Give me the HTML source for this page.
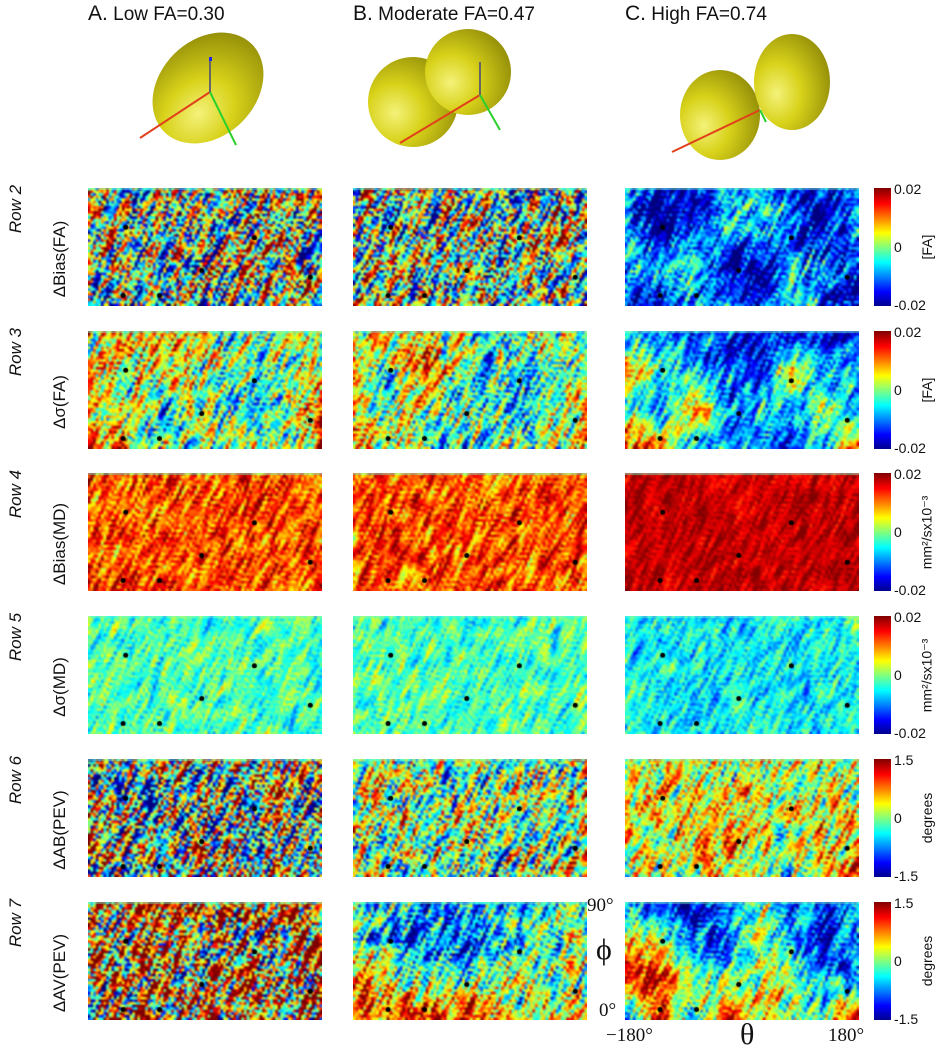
<!DOCTYPE html>
<html><head><meta charset="utf-8"><style>
body{margin:0;background:#fff;width:937px;height:1050px;overflow:hidden;position:relative;font-family:"Liberation Sans",sans-serif}
.t{position:absolute;white-space:nowrap;color:#111}
.rot{transform:rotate(-90deg);transform-origin:center center}
canvas{position:absolute}
</style></head><body>
<div class="t" style="left:88px;top:2px;font-size:19px"><span style="font-size:21px">A.</span> Low FA=0.30</div>
<div class="t" style="left:353px;top:2px;font-size:19px"><span style="font-size:21px">B.</span> Moderate FA=0.47</div>
<div class="t" style="left:625px;top:2px;font-size:19px"><span style="font-size:21px">C.</span> High FA=0.74</div>

<svg width="937" height="180" style="position:absolute;left:0;top:0">
<defs>
<radialGradient id="yg" cx="0.3" cy="0.62" r="0.8"><stop offset="0" stop-color="#f4f27a"/><stop offset="0.4" stop-color="#d8d21a"/><stop offset="1" stop-color="#8a8506"/></radialGradient>
</defs>
<g>
<ellipse cx="208" cy="88" rx="62" ry="48" transform="rotate(-45 208 88)" fill="url(#yg)"/>
<line x1="210" y1="92" x2="140" y2="138" stroke="#e0401a" stroke-width="2"/>
<line x1="210" y1="92" x2="236" y2="145" stroke="#2ad02a" stroke-width="2"/>
<line x1="210" y1="92" x2="210" y2="60" stroke="#666" stroke-width="2"/>
<rect x="209" y="57" width="3" height="4" fill="#22f"/>
</g>
<g>
<circle cx="413" cy="102" r="45" fill="url(#yg)"/>
<circle cx="468" cy="72" r="43" fill="url(#yg)"/>
<line x1="480" y1="95" x2="400" y2="143" stroke="#e0401a" stroke-width="2"/>
<line x1="480" y1="95" x2="500" y2="130" stroke="#2ad02a" stroke-width="2"/>
<line x1="480" y1="95" x2="480" y2="62" stroke="#666" stroke-width="2"/>
</g>
<g>
<ellipse cx="720" cy="115" rx="40" ry="45" fill="url(#yg)"/>
<ellipse cx="792" cy="82" rx="38" ry="48" fill="url(#yg)"/>
<line x1="760" y1="110" x2="672" y2="152" stroke="#e0401a" stroke-width="2"/>
<line x1="760" y1="110" x2="766" y2="122" stroke="#2ad02a" stroke-width="2"/>
</g>
</svg>

<div id="root"></div>

<div class="t" style="left:587px;top:895px;font-family:'Liberation Serif',serif;font-size:19px">90°</div>
<div class="t" style="left:596px;top:933px;font-family:'Liberation Serif',serif;font-size:30px">ϕ</div>
<div class="t" style="left:599px;top:1000px;font-family:'Liberation Serif',serif;font-size:19px">0°</div>
<div class="t" style="left:606px;top:1025px;font-family:'Liberation Serif',serif;font-size:19px">−180°</div>
<div class="t" style="left:740px;top:1018px;font-family:'Liberation Serif',serif;font-size:30px">θ</div>
<div class="t" style="left:828px;top:1025px;font-family:'Liberation Serif',serif;font-size:19px">180°</div>

<script>
// gradient direction dots (theta deg, phi deg)
const dotTheta=[-122,-126,-70,-5,76,162];
const dotPhi=[60,8,8,27,52,22];
const rowLabels=["ΔBias(FA)","Δσ(FA)","ΔBias(MD)","Δσ(MD)","ΔAB(PEV)","ΔAV(PEV)"];
const cbTop=["0.02","0.02","0.02","0.02","1.5","1.5"];
const cbBot=["-0.02","-0.02","-0.02","-0.02","-1.5","-1.5"];
const cbUnit=["[FA]","[FA]","mm²/sx10⁻³","mm²/sx10⁻³","degrees","degrees"];
// per panel noise amplitude (rows x cols A,B,C)
const noiseAmp=[[1.1,1.05,0.45],[0.6,0.6,0.4],[0.35,0.35,0.15],[0.28,0.28,0.28],[1.2,0.75,0.55],[1.25,0.6,0.45]];
// coarse mean grids, 4 rows (top->bottom) x 8 cols, normalized -1..1
const means=[
 [ // row 2
  [[0,0,0,0,0,0,0,0],[0,0.1,0,0,0,0,0,0],[0,0.1,0,0,0,0,0,0],[0,0,0,0,0,0,0,0]],
  [[0,-0.1,0,0,0,0,0,0],[0,0,0,0,0,0,0,0],[0,0,0,0,0,0,0,0],[0,0,0,0,0,0,0,0]],
  [[-0.5,-0.9,-0.9,-0.5,-0.3,-0.7,-1,-0.6],[-0.6,-1,-0.7,-0.2,-0.4,-0.6,-0.9,-0.4],[-0.3,-0.4,-0.1,-0.9,-1,-0.3,-0.5,-0.9],[-0.7,-0.9,-0.4,-0.6,-0.7,-0.2,-0.6,-1]]
 ],
 [ // row 3
  [[0.1,0.4,0.5,0.2,-0.1,0,0.1,-0.1],[0.3,0.2,0.1,0.4,-0.1,-0.3,0,0],[0.5,0,-0.2,0.1,0,-0.4,0.1,0.5],[0.6,0.4,0,-0.1,0.1,0.2,0,0.7]],
  [[0.1,0.4,0.2,0.1,-0.3,0,0,-0.3],[0.3,0,0.4,0.2,-0.3,-0.3,0,0],[0.3,-0.1,0.1,0,-0.2,-0.4,0,0.4],[0.6,0.2,-0.1,-0.4,0,0.1,-0.1,0.6]],
  [[-0.4,-0.5,-0.5,-0.8,-0.8,-0.9,-0.7,-0.6],[0.5,-0.1,-0.4,-0.7,-0.7,0.4,-0.4,-0.4],[0,-0.6,0.6,-0.5,-0.3,-0.5,0.1,-0.5],[0.7,0.5,-0.5,-0.3,-0.5,-0.7,-0.4,0.7]]
 ],
 [ // row 4
  [[0.6,0.6,0.6,0.6,0.6,0.6,0.6,0.6],[0.6,0.6,0.6,0.6,0.6,0.6,0.6,0.6],[0.6,0.6,0.6,0.6,0.6,0.6,0.6,0.6],[0.6,0.6,0.6,0.6,0.6,0.6,0.6,0.6]],
  [[0.6,0.6,0.6,0.6,0.6,0.6,0.6,0.6],[0.6,0.6,0.6,0.6,0.6,0.6,0.6,0.6],[0.6,0.6,0.6,0.6,0.6,0.6,0.6,0.6],[0.6,0.6,0.6,0.6,0.6,0.6,0.6,0.6]],
  [[0.85,0.9,0.85,0.8,0.85,0.85,0.8,0.85],[0.9,0.85,0.9,0.85,0.8,0.9,0.85,0.9],[0.85,0.9,0.85,0.9,0.85,0.85,0.9,0.85],[0.9,0.85,0.9,0.85,0.9,0.85,0.85,0.9]]
 ],
 [ // row 5
  [[-0.1,-0.1,-0.1,-0.1,-0.1,-0.1,-0.1,-0.1],[-0.1,-0.1,-0.1,-0.1,-0.1,-0.1,-0.1,-0.1],[-0.1,-0.1,-0.1,-0.1,-0.1,-0.1,-0.1,-0.1],[-0.1,-0.1,-0.1,-0.1,-0.1,-0.1,-0.1,-0.1]],
  [[-0.1,-0.1,-0.1,-0.1,-0.1,-0.1,-0.1,-0.1],[-0.1,-0.1,-0.1,-0.1,-0.1,-0.1,-0.1,-0.1],[-0.1,-0.1,-0.1,-0.1,-0.1,-0.1,-0.1,-0.1],[-0.1,-0.1,-0.1,-0.1,-0.1,-0.1,-0.1,-0.1]],
  [[-0.2,-0.25,-0.3,-0.3,-0.2,-0.25,-0.3,-0.2],[-0.25,-0.3,-0.2,-0.3,-0.3,-0.25,-0.2,-0.2],[-0.2,-0.25,-0.3,-0.2,-0.25,-0.3,-0.25,-0.2],[-0.25,-0.2,-0.3,-0.25,-0.2,-0.25,-0.3,-0.25]]
 ],
 [ // row 6
  [[0,0,0,0,0,0,0,0],[0,0,0,0,0,0,0,0],[0,0,0,0,0,0,0,0],[0.1,0,0,0,0,0,0,0.1]],
  [[0,0.1,0,-0.1,0,0,0,0],[0,0.1,0,0,-0.1,0,0,0],[0.1,0,0.1,0,0,0,0,0.1],[0.2,0.1,0,0.2,0,0,0,0.2]],
  [[0.1,0.3,0.2,0.1,0.2,0.1,0.2,0.1],[0.2,0.1,0.2,0.1,0.3,0.1,0.2,0.1],[0.3,0.1,0.4,0.6,0.1,0,0.2,0.3],[0.2,0.1,0,0.3,0.2,0,0.3,0.6]]
 ],
 [ // row 7
  [[0.3,0.4,0.3,0.4,0.3,0.4,0.3,0.3],[0.4,0.3,0.4,0.3,0.4,0.3,0.4,0.3],[0.4,0.4,0.3,0.4,0.3,0.3,0.4,0.3],[0.5,0.4,0.5,0.4,0.4,0.3,0.5,0.5]],
  [[-0.3,-0.5,-0.4,-0.5,-0.3,-0.4,-0.2,-0.3],[0,-0.3,-0.6,-0.5,-0.4,-0.3,0,0],[0.5,0.4,-0.1,0,0.2,0,-0.1,0.1],[0.7,0.6,0.7,0.8,0.3,0.1,0.2,0.5]],
  [[-0.3,-0.7,-0.9,-0.4,0,-0.5,-0.7,-0.3],[0.4,0.1,-0.6,-0.6,0,-0.4,-0.9,-0.5],[0.7,0.9,0,-0.3,0.2,0,-0.3,-0.4],[-0.6,0.8,-0.3,0.9,0.2,0,0.1,0.7]]
 ]
];
const colX=[88,353,625], rowY=[188,331,473,616,759,902], PW=234, PH=118;
const root=document.getElementById('root');
function jet(v){
  let t=Math.max(0,Math.min(1,(v+1)/2));
  const r=Math.max(0,Math.min(1,1.5-Math.abs(4*t-3)));
  const g=Math.max(0,Math.min(1,1.5-Math.abs(4*t-2)));
  const b=Math.max(0,Math.min(1,1.5-Math.abs(4*t-1)));
  return [r*255,g*255,b*255];
}
function h(i,j,s){const x=Math.sin(i*127.1+j*311.7+s*74.7)*43758.5453;return x-Math.floor(x);}
function coarse(g,u,v){
  const fx=u*7, fy=v*3, x0=Math.floor(Math.min(fx,6.999)), y0=Math.floor(Math.min(fy,2.999));
  const ax=fx-x0, ay=fy-y0;
  const a=g[y0][x0],b=g[y0][x0+1],c=g[y0+1][x0],d=g[y0+1][x0+1];
  return a*(1-ax)*(1-ay)+b*ax*(1-ay)+c*(1-ax)*ay+d*ax*ay;
}
const NX=90, NY=46;
function xScale(th){return (th+180)/360*PW;}
function yScale(ph){return PH-(ph/90)*PH;}
function texture(seed){
  const W=NX+4,H=NY+8;const base=[];
  for(let j=0;j<H;j++){base.push([]);for(let i=0;i<W;i++)base[j].push(h(i,j,seed)-0.5);}
  const out=[];let sum=0,sq=0;
  const ks=[-1,0,1], ws=[0.6,1,0.6];
  for(let j=0;j<NY;j++){out.push([]);for(let i=0;i<NX;i++){
    let s=0;
    for(let q=0;q<3;q++){const k=ks[q];
      s+=ws[q]*(base[j+4-2*k][i+2+k]+0.5*base[j+4-2*k+1][i+2+k]+0.3*base[j+4-2*k][i+2+k+1]);}
    out[j].push(s);sum+=s;sq+=s*s;}}
  const N=NX*NY,m=sum/N,sd=Math.sqrt(sq/N-m*m);
  for(let j=0;j<NY;j++)for(let i=0;i<NX;i++)out[j][i]=(out[j][i]-m)/sd;
  return out;
}
for(let r=0;r<6;r++){
  for(let c=0;c<3;c++){
    const cv=document.createElement('canvas');
    
    
    cv.width=PW;cv.height=PH;cv.style.left=colX[c]+'px';cv.style.top=rowY[r]+'px';
    root.appendChild(cv);
    const off=document.createElement('canvas');off.width=NX;off.height=NY;
    const octx=off.getContext('2d');const im=octx.createImageData(NX,NY);
    const seed=r*3+c+1, amp=noiseAmp[r][c];
    const tx=texture(seed);
    for(let j=0;j<NY;j++)for(let i=0;i<NX;i++){
      const val=coarse(means[r][c],i/(NX-1),j/(NY-1))+amp*0.6*tx[j][i];
      const col=jet(val);const p=(j*NX+i)*4;
      im.data[p]=col[0];im.data[p+1]=col[1];im.data[p+2]=col[2];im.data[p+3]=255;
    }
    octx.putImageData(im,0,0);
    const ctx=cv.getContext('2d');ctx.imageSmoothingEnabled=true;ctx.imageSmoothingQuality='high';
    ctx.drawImage(off,0,0,PW,PH);
    ctx.fillStyle='rgba(120,255,200,0.5)';ctx.fillRect(0,0,PW,2);
    ctx.fillStyle='#000';
    for(let k=0;k<dotTheta.length;k++){
      ctx.beginPath();ctx.arc(xScale(dotTheta[k]),yScale(dotPhi[k]),2.5,0,Math.PI*2);ctx.fill();
    }
  }
  const y0=rowY[r]+PH/2;
  const rl=document.createElement('div');rl.className='t rot';
  
  
  rl.style.cssText+='font-style:italic;font-size:17px;width:80px;text-align:center;left:-24px;top:'+(y0-48)+'px';
  rl.textContent='Row '+(r+2);root.appendChild(rl);
  const ml=document.createElement('div');ml.className='t rot';
  
  
  ml.style.cssText+='font-size:17px;width:120px;text-align:center;left:0px;top:'+(y0+2)+'px';
  ml.textContent=rowLabels[r];root.appendChild(ml);
  const cb=document.createElement('div');
  
  
  cb.style.cssText='position:absolute;left:874px;width:17px;top:'+rowY[r]+'px;height:'+PH+'px;background:linear-gradient(to top,#00008f,#0000ff 12%,#00ffff 37%,#ffff00 62%,#ff0000 87%,#800000);';
  root.appendChild(cb);
  const mk=(txt,top,name)=>{const d=document.createElement('div');d.className='t';d.style.cssText+='left:894px;font-size:14px;top:'+top+'px';d.textContent=txt;root.appendChild(d);};
  mk(cbTop[r],rowY[r]-7,'colorbar-max-row-'+(r+2));
  mk('0',rowY[r]+PH/2-8,'colorbar-zero-row-'+(r+2));
  mk(cbBot[r],rowY[r]+PH-9,'colorbar-min-row-'+(r+2));
  const u=document.createElement('div');u.className='t rot';
  
  
  u.style.cssText+='font-size:14px;width:110px;text-align:center;left:872px;top:'+(y0-8)+'px';
  u.textContent=cbUnit[r];root.appendChild(u);
}
</script>
</body></html>
